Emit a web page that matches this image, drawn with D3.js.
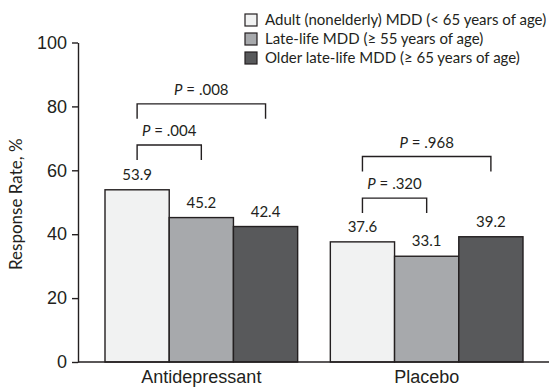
<!doctype html>
<html lang="en">
    <head>
        <meta charset="UTF-8" />
        <title>Response Rate</title>
        <script src="https://d3js.org/d3.v7.min.js"></script>
        <style>
            body {
                margin: 0;
                background: #fff;
            }
            svg {
                font-family: Lato, "Open Sans", sans-serif;
                fill: #231f20;
            }
            .axis path,
            .axis line {
                stroke: #231f20;
                stroke-width: 1.4;
            }
            .axis text {
                font-size: 18px;
                fill: #231f20;
            }
        </style>
    </head>
    <body>
        <svg id="chart" width="549" height="389"></svg>
        <script>
            const groups = ["Antidepressant", "Placebo"];
            const seriesNames = [
                "Adult (nonelderly) MDD (< 65 years of age)",
                "Late-life MDD (\u2265 55 years of age)",
                "Older late-life MDD (\u2265 65 years of age)",
            ];
            const antidepressant = [53.9, 45.2, 42.4];
            const placebo = [37.6, 33.1, 39.2];
            const yTicks = [0, 20, 40, 60, 80, 100];
            // p-value brackets: group, first bar, last bar, p, bracket level (%)
            const compGroups = ["Antidepressant", "Antidepressant", "Placebo", "Placebo"];
            const compFrom = [0, 0, 0, 0];
            const compTo = [2, 1, 2, 1];
            const compP = [".008", ".004", ".968", ".320"];
            const compLevel = [80.8, 67.9, 64.3, 51.3];

            const colors = ["#f1f2f2", "#a7a9ac", "#58595b"];
            const ink = "#231f20";

            const svg = d3.select("#chart");
            const width = +svg.attr("width");

            const y = d3.scaleLinear().domain([0, 100]).range([362, 42.5]);

            const x0 = d3
                .scaleBand()
                .domain(groups)
                .range([105, 523])
                .paddingInner(0.145)
                .paddingOuter(0);

            const x1 = d3
                .scaleBand()
                .domain(d3.range(seriesNames.length))
                .range([0, x0.bandwidth()]);

            const rows = [];
            groups.forEach((g, gi) => {
                const vals = gi === 0 ? antidepressant : placebo;
                vals.forEach((v, i) => rows.push({ group: g, series: i, value: v }));
            });

            // bars
            svg.append("g")
                .selectAll("rect")
                .data(rows)
                .join("rect")
                .attr("x", (d) => x0(d.group) + x1(d.series))
                .attr("y", (d) => y(d.value))
                .attr("width", x1.bandwidth())
                .attr("height", (d) => y(0) - y(d.value))
                .attr("fill", (d) => colors[d.series])
                .attr("stroke", ink)
                .attr("stroke-width", 1.4);

            // value labels
            svg.append("g")
                .selectAll("text")
                .data(rows)
                .join("text")
                .attr("x", (d) => x0(d.group) + x1(d.series) + x1.bandwidth() / 2)
                .attr("y", (d) => y(d.value) - 10)
                .attr("text-anchor", "middle")
                .style("font-size", "15px")
                .text((d) => d.value.toFixed(1));

            // y axis
            svg.append("g")
                .attr("class", "axis")
                .attr("transform", "translate(78,0)")
                .call(
                    d3.axisLeft(y).tickValues(yTicks).tickSize(6).tickPadding(5).tickSizeOuter(0),
                );

            svg.append("text")
                .attr("transform", `translate(22,${(y(0) + y(100)) / 2 + 2}) rotate(-90)`)
                .attr("text-anchor", "middle")
                .style("font-size", "17px")
                .text("Response Rate, %");

            // x axis
            svg.append("line")
                .attr("x1", 78)
                .attr("x2", width)
                .attr("y1", y(0))
                .attr("y2", y(0))
                .attr("stroke", ink)
                .attr("stroke-width", 1.4);

            const xAxis = svg
                .append("g")
                .attr("class", "axis")
                .attr("transform", `translate(0,${y(0)})`)
                .call(d3.axisBottom(x0).tickSize(0).tickPadding(8));
            xAxis.select(".domain").remove();

            // brackets
            const comps = compP.map((p, i) => ({
                group: compGroups[i],
                from: compFrom[i],
                to: compTo[i],
                p: p,
                level: compLevel[i],
            }));
            const cx = (g, s) => x0(g) + x1(s) + x1.bandwidth() / 2;

            svg.append("g")
                .selectAll("path")
                .data(comps)
                .join("path")
                .attr("fill", "none")
                .attr("stroke", ink)
                .attr("stroke-width", 1.4)
                .attr("d", (d) => {
                    const xa = cx(d.group, d.from);
                    const xb = cx(d.group, d.to);
                    const top = y(d.level);
                    const bot = y(d.level - 4.7);
                    return `M${xa},${bot}V${top}H${xb}V${bot}`;
                });

            const pText = svg
                .append("g")
                .selectAll("text")
                .data(comps)
                .join("text")
                .attr("x", (d) => (cx(d.group, d.from) + cx(d.group, d.to)) / 2)
                .attr("y", (d) => y(d.level) - 9)
                .attr("text-anchor", "middle")
                .style("font-size", "15px");
            pText.append("tspan").style("font-style", "italic").text("P");
            pText.append("tspan").text((d) => " = " + d.p);

            // legend
            const legend = svg
                .append("g")
                .selectAll("g")
                .data(seriesNames)
                .join("g")
                .attr("transform", (d, i) => `translate(245,${20 + i * 19})`);
            legend
                .append("rect")
                .attr("x", 0)
                .attr("y", -6)
                .attr("width", 12)
                .attr("height", 12)
                .attr("fill", (d, i) => colors[i])
                .attr("stroke", ink)
                .attr("stroke-width", 1.2);
            legend
                .append("text")
                .attr("x", 20)
                .attr("dy", "0.36em")
                .style("font-size", "15px")
                .text((d) => d);
        </script>
    </body>
</html>
